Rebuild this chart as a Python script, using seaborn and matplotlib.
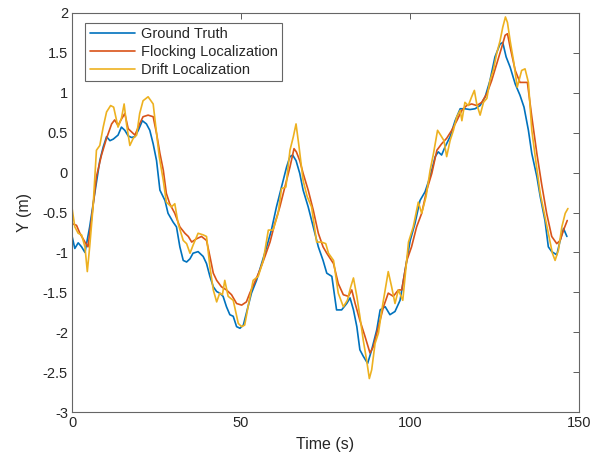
import seaborn as sns
import matplotlib.pyplot as plt
from matplotlib.ticker import FormatStrFormatter

# data
t_gt = [0, 0.8, 1.8, 2.8, 3.8, 5.2, 6.7, 8.2, 9.2, 10.2, 11.2, 12.2, 13.6, 14.6, 15.6,
        16.6, 17.6, 18.6, 19.6, 20.8, 22, 23, 24, 25, 26, 27.5, 28.4, 29.9, 30.9, 31.9,
        32.9, 33.9, 34.9, 35.8, 37.3, 38.8, 39.8, 40.8, 41.8, 42.8, 43.7, 44.7, 45.7,
        46.7, 47.7, 48.7, 49.7, 50.7, 51.6, 53.1, 54.6, 56.1, 57.6, 59.0, 60.5, 62,
        63.5, 64.5, 65.3, 66.3, 67.4, 68.4, 69.9, 71.4, 72.9, 74.3, 75.4, 76.9, 78.3,
        79.8, 81.3, 82.3, 83.3, 84.3, 85.2, 86.2, 87.5, 88.7, 90.2, 91.2, 92.7, 94.1,
        95.6, 97.1, 98.6, 100.1, 101.5, 103, 104.5, 106, 107.5, 108.4, 109.4, 110.4,
        111.9, 113.4, 114.9, 116.3, 117.8, 119.3, 120.8, 122.3, 123.7, 125.2, 126.7,
        127.5, 128.5, 129.7, 131.2, 132.6, 133.8, 135.1, 136.1, 137.6, 138.6, 140,
        141, 142, 143.5, 144.5, 145.5, 146.5]
y_gt = [-0.80, -0.95, -0.88, -0.93, -1.00, -0.68, -0.26, 0.15, 0.32, 0.45, 0.40, 0.42,
        0.47, 0.57, 0.53, 0.46, 0.44, 0.45, 0.53, 0.65, 0.61, 0.53, 0.36, 0.15, -0.22,
        -0.35, -0.51, -0.62, -0.68, -0.93, -1.10, -1.12, -1.08, -1.01, -0.99, -1.05,
        -1.14, -1.30, -1.43, -1.49, -1.51, -1.55, -1.68, -1.78, -1.80, -1.93, -1.95,
        -1.91, -1.76, -1.51, -1.35, -1.14, -0.93, -0.72, -0.43, -0.18, 0.07, 0.20, 0.22,
        0.15, -0.01, -0.22, -0.43, -0.68, -0.93, -1.10, -1.26, -1.30, -1.72, -1.72,
        -1.64, -1.57, -1.72, -1.93, -2.22, -2.30, -2.39, -2.22, -1.97, -1.72, -1.68,
        -1.78, -1.74, -1.60, -1.22, -0.85, -0.64, -0.35, -0.24, -0.05, 0.20, 0.26, 0.22,
        0.32, 0.45, 0.65, 0.80, 0.80, 0.79, 0.80, 0.84, 0.95, 1.15, 1.45, 1.61, 1.63,
        1.45, 1.32, 1.11, 0.97, 0.82, 0.53, 0.24, -0.05, -0.30, -0.60, -0.93, -0.99,
        -1.03, -0.85, -0.70, -0.80]

t_fl = [0, 1.3, 2.3, 3.8, 4.7, 5.7, 7.2, 8.7, 10.2, 11.7, 12.6, 13.6, 14.6, 15.6, 16.6,
        17.6, 18.6, 20, 21, 22.5, 24, 25, 26, 27, 27.9, 28.9, 30.4, 31.9, 33.4, 34.4,
        35.4, 36.8, 38.3, 39.8, 40.8, 41.8, 42.8, 44.2, 45.7, 47.2, 48.7, 50.2, 51.6,
        52.6, 54.1, 55.6, 57.1, 58.6, 60, 61.5, 63, 64.5, 65.7, 66.4, 67.4, 68.4, 69.9,
        71.4, 72.9, 74.3, 75.4, 77.4, 78.8, 80.3, 81.8, 82.8, 83.8, 85.2, 86.7, 88.2,
        89.2, 90.7, 92.2, 93.6, 95.1, 96.6, 97.6, 99.1, 100.5, 102, 103.5, 105, 106.5,
        108, 109.4, 110.9, 112.4, 113.9, 115.4, 116.8, 118.3, 119.8, 121.3, 122.8,
        124.2, 125.7, 127.2, 128.2, 128.9, 129.7, 131.2, 132.6, 133.6, 134.8, 136.1,
        137.6, 139, 140.5, 142, 143.5, 144.5, 145.5, 146.6]
y_fl = [-0.64, -0.66, -0.76, -0.87, -0.93, -0.60, -0.05, 0.22, 0.43, 0.61, 0.66, 0.59,
        0.67, 0.74, 0.55, 0.51, 0.47, 0.61, 0.70, 0.72, 0.70, 0.49, 0.24, 0.03, -0.26,
        -0.39, -0.51, -0.68, -0.76, -0.80, -0.87, -0.83, -0.80, -0.85, -1.05, -1.26,
        -1.35, -1.43, -1.47, -1.53, -1.64, -1.66, -1.62, -1.51, -1.37, -1.22, -1.05,
        -0.87, -0.64, -0.43, -0.18, 0.07, 0.30, 0.26, 0.15, -0.01, -0.22, -0.47, -0.76,
        -0.93, -1.01, -1.14, -1.39, -1.53, -1.55, -1.47, -1.64, -1.85, -2.05, -2.26,
        -2.18, -1.93, -1.68, -1.51, -1.55, -1.47, -1.47, -1.10, -0.93, -0.68, -0.51,
        -0.22, -0.01, 0.28, 0.36, 0.43, 0.53, 0.65, 0.78, 0.84, 0.86, 0.84, 0.88, 0.99,
        1.15, 1.36, 1.57, 1.72, 1.74, 1.57, 1.28, 1.13, 1.13, 1.13, 0.70, 0.24, -0.14,
        -0.51, -0.80, -0.89, -0.85, -0.72, -0.60]

t_dr = [0, 0.8, 1.8, 2.8, 3.8, 4.5, 5.2, 6.2, 7.2, 8.2, 9.2, 10.2, 11.4, 12.3, 13.6,
        14.6, 15.4, 16.1, 17.1, 18.1, 19.1, 20, 21, 22.5, 24, 24.8, 25.8, 27, 27.9,
        29.4, 30.4, 31.4, 32.9, 33.9, 34.9, 35.8, 37.3, 38.8, 39.8, 40.8, 41.8, 42.8,
        43.7, 44.5, 45.2, 46.2, 47.7, 49.2, 50.2, 51.1, 52.1, 53.6, 55.1, 56.6, 58.1,
        59.5, 61, 62, 63.3, 64.5, 65.5, 66.3, 67.2, 68.4, 69.6, 70.9, 72.4, 73.8, 75.1,
        75.9, 77.4, 78.8, 80.3, 81.5, 82.5, 83.3, 84.3, 85.2, 86.2, 87.2, 88, 88.7,
        89.7, 90.7, 91.7, 92.7, 93.6, 94.6, 95.6, 96.6, 97.9, 98.6, 99.6, 101, 102.5,
        103.5, 104.8, 106, 107, 108.2, 109.1, 110.1, 110.9, 111.9, 112.9, 113.9, 114.9,
        115.4, 116.3, 117.3, 118.3, 119.1, 119.8, 120.8, 121.8, 122.8, 123.7, 124.7,
        125.7, 126.7, 127.5, 128.3, 128.9, 129.7, 130.7, 131.8, 133.1, 134.1, 135.1,
        136.1, 137.4, 138.6, 139.7, 141, 142.2, 143, 144, 145, 146, 146.8]
y_dr = [-0.45, -0.68, -0.76, -0.78, -0.93, -1.24, -0.93, -0.43, 0.28, 0.34, 0.57, 0.76,
        0.84, 0.82, 0.57, 0.68, 0.86, 0.61, 0.34, 0.43, 0.47, 0.74, 0.90, 0.95, 0.86,
        0.57, 0.20, -0.10, -0.37, -0.43, -0.39, -0.64, -0.85, -0.89, -1.01, -0.91,
        -0.76, -0.78, -0.80, -1.18, -1.47, -1.62, -1.51, -1.53, -1.35, -1.55, -1.60,
        -1.89, -1.93, -1.91, -1.68, -1.35, -1.30, -1.10, -0.72, -0.72, -0.51, -0.20,
        -0.18, 0.28, 0.45, 0.61, 0.32, -0.10, -0.30, -0.43, -0.87, -0.87, -0.89, -1.01,
        -1.10, -1.51, -1.68, -1.60, -1.43, -1.32, -1.55, -1.80, -2.10, -2.35, -2.58,
        -2.47, -2.14, -2.01, -1.72, -1.47, -1.24, -1.43, -1.64, -1.47, -1.60, -1.30,
        -0.87, -0.68, -0.37, -0.51, -0.30, 0.03, 0.24, 0.53, 0.47, 0.40, 0.20, 0.40,
        0.53, 0.70, 0.78, 0.65, 0.88, 0.84, 0.95, 1.03, 0.86, 0.72, 0.88, 0.93, 1.15,
        1.28, 1.49, 1.65, 1.82, 1.95, 1.88, 1.65, 1.40, 1.07, 1.28, 1.30, 1.13, 0.53,
        0.11, -0.26, -0.49, -0.76, -1.01, -1.10, -0.97, -0.68, -0.51, -0.45]

sns.set_theme(style="white")
plt.rcParams['font.family'] = ['Liberation Sans', 'DejaVu Sans']
plt.rcParams['axes.unicode_minus'] = False

fig = plt.figure(figsize=(6.06, 4.63), dpi=100)
ax = fig.add_axes([0.119, 0.110, 0.836, 0.862])

sns.lineplot(x=t_gt, y=y_gt, ax=ax, color="#0072BD", lw=1.2, label="Ground Truth", sort=False)
sns.lineplot(x=t_fl, y=y_fl, ax=ax, color="#D95319", lw=1.2, label="Flocking Localization", sort=False)
sns.lineplot(x=t_dr, y=y_dr, ax=ax, color="#EDB120", lw=1.2, label="Drift Localization", sort=False)

ax.set_xlim(0, 150)
ax.set_ylim(-3, 2)
ax.set_xticks([0, 50, 100, 150])
ax.set_yticks([-3, -2.5, -2, -1.5, -1, -0.5, 0, 0.5, 1, 1.5, 2])
ax.yaxis.set_major_formatter(FormatStrFormatter('%g'))
ax.tick_params(direction="in", length=4, width=0.6, color="0.25", labelsize=10.5,
               labelcolor="#262626", top=True, right=True, pad=3)
for s in ax.spines.values():
    s.set_color("0.4")
    s.set_linewidth(0.8)

ax.set_xlabel("Time (s)", fontsize=11.5, color="#262626", labelpad=5)
ax.set_ylabel("Y (m)", fontsize=11.5, color="#262626", labelpad=8)

leg = ax.legend(loc="upper left", bbox_to_anchor=(0.026, 0.976), fontsize=10.5,
                handlelength=3.1, frameon=True, fancybox=False, borderpad=0.3,
                labelspacing=0.28, handletextpad=0.4, borderaxespad=0)
leg.get_frame().set_edgecolor("0.25")
leg.get_frame().set_linewidth(0.8)

fig.savefig("out.png", dpi=100)
